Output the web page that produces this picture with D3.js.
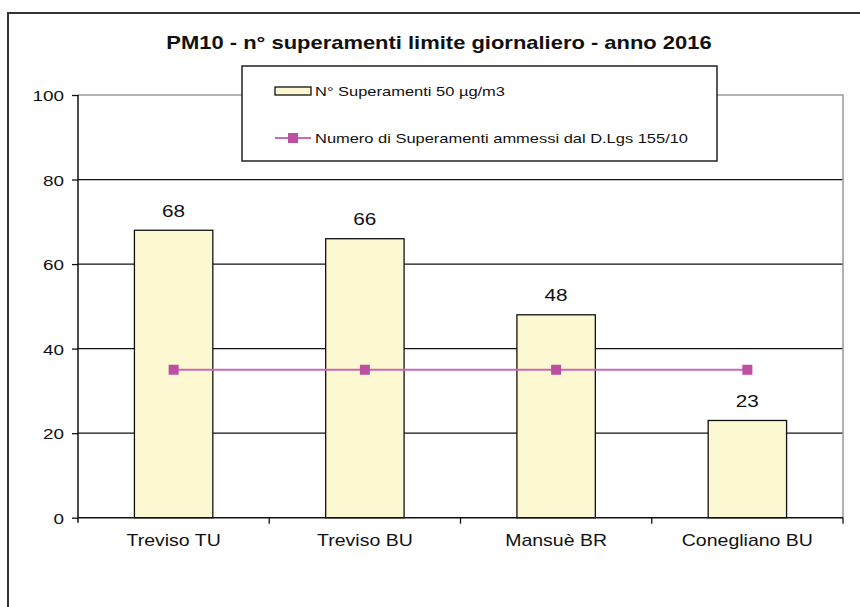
<!DOCTYPE html>
<html><head><meta charset="utf-8">
<script src="https://cdn.jsdelivr.net/npm/d3@7/dist/d3.min.js"></script>
<style>body{margin:0;background:#fff}svg{display:block;font-family:"Liberation Sans",Arial,sans-serif}</style>
</head><body><svg id="c" width="860" height="607"></svg>
<script>
const categories = ["Treviso TU","Treviso BU","Mansuè BR","Conegliano BU"];
const exceedances = [68,66,48,23];
const allowed = [35,35,35,35];
const yTicks = [0,20,40,60,80,100];
const title = "PM10 - n° superamenti limite giornaliero  - anno 2016";
const legendLabels = ["N° Superamenti 50 µg/m3","Numero di Superamenti ammessi dal D.Lgs 155/10"];

const svg = d3.select("#c");
const L=78, R=843, T=95, B=517.7;
const SX = 1.22; // horizontal stretch of the reference's text
const x = d3.scaleBand().domain(categories).range([L,R]).paddingInner(0.59).paddingOuter(0.295);
const xb = d3.scaleBand().domain(categories).range([L,R]);
const y = d3.scaleLinear().domain([0,100]).range([B,T]);
const tr = (px,py)=>`translate(${px},${py}) scale(${SX},1)`;

// outer frame
svg.append("rect").attr("x",8).attr("y",13).attr("width",900).attr("height",700)
  .attr("fill","none").attr("stroke","#333").attr("stroke-width",2);

svg.append("text").attr("transform",tr(439,49)).attr("text-anchor","middle")
  .attr("font-weight","bold").attr("font-size",18).attr("fill","#111").text(title);

// gridlines
svg.append("g").selectAll("line").data(yTicks.filter(d=>d>0&&d<100)).join("line")
  .attr("x1",L).attr("x2",R).attr("y1",d=>y(d)).attr("y2",d=>y(d))
  .attr("stroke","#111").attr("stroke-width",1.3);
// plot border top/right grey
svg.append("path").attr("d",`M${L},${y(100)}H${R}V${B}`).attr("fill","none").attr("stroke","#999").attr("stroke-width",1.5);

// bars
svg.append("g").selectAll("rect").data(categories).join("rect")
  .attr("x",d=>x(d)).attr("width",x.bandwidth())
  .attr("y",(d,i)=>y(exceedances[i])).attr("height",(d,i)=>B-y(exceedances[i]))
  .attr("fill","#FCF8D2").attr("stroke","#111").attr("stroke-width",1.3);

// value labels
svg.append("g").selectAll("text").data(categories).join("text")
  .attr("transform",(d,i)=>tr(x(d)+x.bandwidth()/2, y(exceedances[i])-13.5))
  .attr("text-anchor","middle").attr("font-size",17).attr("fill","#111")
  .text((d,i)=>exceedances[i]);

// line series
const line = d3.line().x((d,i)=>xb(categories[i])+xb.bandwidth()/2).y(d=>y(d));
svg.append("path").attr("d",line(allowed)).attr("fill","none").attr("stroke","#C86AB4").attr("stroke-width",2);
svg.append("g").selectAll("rect").data(allowed).join("rect")
  .attr("x",(d,i)=>xb(categories[i])+xb.bandwidth()/2-5).attr("y",d=>y(d)-5)
  .attr("width",10).attr("height",10).attr("fill","#BE4FA2");

// y axis
const ya = svg.append("g").attr("transform",`translate(${L},0)`)
  .call(d3.axisLeft(y).tickValues(yTicks).tickSize(6).tickPadding(6));
ya.select(".domain").attr("stroke","#111").attr("stroke-width",1.5).attr("d",`M0,${T}V${B+5}`);
ya.selectAll(".tick line").attr("stroke","#111").attr("stroke-width",1.3);
ya.selectAll(".tick text").attr("x",null).attr("dy",null)
  .attr("transform",`translate(-14,5.5) scale(${SX},1)`)
  .attr("font-size",15.5).attr("fill","#111").attr("font-family","inherit");

// x axis
const xa = svg.append("g").attr("transform",`translate(0,${B})`);
xa.append("line").attr("x1",L).attr("x2",R).attr("stroke","#111").attr("stroke-width",1.5);
xa.selectAll("line.t").data(categories).join("line").attr("class","t")
  .attr("x1",d=>xb(d)+xb.bandwidth()).attr("x2",d=>xb(d)+xb.bandwidth()).attr("y1",0).attr("y2",6)
  .attr("stroke","#111").attr("stroke-width",1.3);
xa.selectAll("text").data(categories).join("text")
  .attr("transform",d=>tr(xb(d)+xb.bandwidth()/2, 28)).attr("text-anchor","middle")
  .attr("font-size",16).attr("fill","#111").text(d=>d);

// legend
const lg = svg.append("g");
lg.append("rect").attr("x",242).attr("y",66).attr("width",475).attr("height",95)
  .attr("fill","#fff").attr("stroke","#222").attr("stroke-width",1.5);
lg.append("rect").attr("x",275).attr("y",87).attr("width",36).attr("height",8)
  .attr("fill","#FCF8D2").attr("stroke","#111").attr("stroke-width",1.3);
lg.append("text").attr("x",315).attr("y",96).attr("font-size",13).attr("fill","#111")
  .attr("textLength",190).attr("lengthAdjust","spacingAndGlyphs").text(legendLabels[0]);
lg.append("line").attr("x1",275).attr("x2",311).attr("y1",138).attr("y2",138).attr("stroke","#C86AB4").attr("stroke-width",2);
lg.append("rect").attr("x",288).attr("y",133).attr("width",10).attr("height",10).attr("fill","#BE4FA2");
lg.append("text").attr("x",315).attr("y",142.5).attr("font-size",13).attr("fill","#111")
  .attr("textLength",373).attr("lengthAdjust","spacingAndGlyphs").text(legendLabels[1]);
</script></body></html>
